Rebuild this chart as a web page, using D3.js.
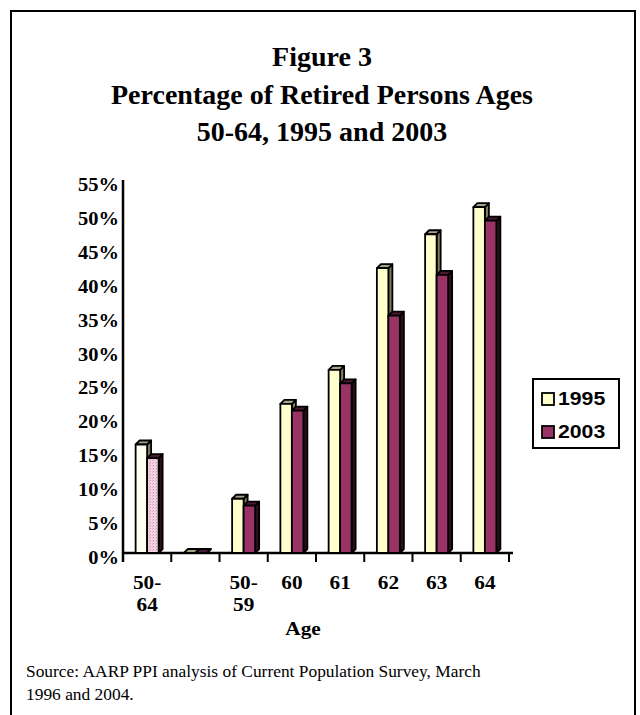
<!DOCTYPE html>
<html>
<head>
<meta charset="utf-8">
<script src="https://cdn.jsdelivr.net/npm/d3@7"></script>
<style>
  html, body { margin: 0; padding: 0; background: #fff; }
  svg { display: block; }
</style>
</head>
<body>
<svg id="chart" width="640" height="715"></svg>
<script>
// Age groups along the x axis (the blank one is a spacer column)
const categories = ["50-64", "", "50-59", "60", "61", "62", "63", "64"];
const series = ["1995", "2003"];
// Percentage retired, by age group
const values1995 = [16, 0, 8, 22, 27, 42, 47, 51];
const values2003 = [14, 0, 7, 21, 25, 35, 41, 49];
const yTicks = [0, 5, 10, 15, 20, 25, 30, 35, 40, 45, 50, 55];
const titleLines = ["Figure 3", "Percentage of Retired Persons Ages", "50-64, 1995 and 2003"];
const sourceLines = ["Source: AARP PPI analysis of Current Population Survey, March", "1996 and 2004."];

const svg = d3.select("#chart");
const serif = "'Liberation Serif', 'Times New Roman', serif";
const sans = "'Liberation Sans', Arial, sans-serif";

// Fill for the front faces; the combined 50-64 group uses paler fills
const frontFill = {
  "1995": (i) => i === 0 ? "#FFFFF0" : "#FFFFCC",
  "2003": (i) => i === 0 ? "url(#pinkHatch)" : "#993366"
};
const sideFill = { "1995": "#7F7F5F", "2003": "#2E0F1F" };
const topFill = { "1995": "#A5A585", "2003": "#4C1933" };

const defs = svg.append("defs");
const pat = defs.append("pattern").attr("id", "pinkHatch")
  .attr("width", 3).attr("height", 3).attr("patternUnits", "userSpaceOnUse");
pat.append("rect").attr("width", 3).attr("height", 3).attr("fill", "#F2D4E2");
pat.append("rect").attr("x", 0).attr("y", 0).attr("width", 1).attr("height", 1).attr("fill", "#C990AE");
pat.append("rect").attr("x", 2).attr("y", 1).attr("width", 1).attr("height", 1).attr("fill", "#DDB0C6");

// Text drawn slightly widened, as in the original chart's axis labels
function wideText(parent, x, y, str, opts) {
  return parent.append("text")
    .attr("transform", `translate(${x},${y}) scale(${opts.sx || 1},1)`)
    .attr("text-anchor", opts.anchor || "start")
    .attr("font-family", opts.family)
    .attr("font-weight", opts.weight || "normal")
    .attr("font-size", opts.size)
    .text(str);
}

// Outer frame (runs past the bottom edge)
svg.append("rect").attr("x", 11).attr("y", 11).attr("width", 624).attr("height", 720)
  .attr("fill", "none").attr("stroke", "#000").attr("stroke-width", 2);

// Title
svg.append("g").selectAll("text").data(titleLines).join("text")
  .attr("x", 322).attr("y", (d, i) => 66 + i * 37.5)
  .attr("text-anchor", "middle")
  .attr("font-family", serif).attr("font-weight", "bold").attr("font-size", 28)
  .text(d => d);

// Scales
const x = d3.scaleBand().domain(categories).range([123, 509]);
const y = d3.scaleLinear().domain([0, 55]).range([553, 180]);
const barW = 11.5;
const inner = d3.scaleBand().domain(series).range([0, barW * 2]);
const depth = 4;

// Y axis labels
const yLab = svg.append("g");
yTicks.forEach(t => wideText(yLab, 119, y(t) + 11, t + "%",
  { anchor: "end", family: serif, weight: "bold", size: 18, sx: 1.14 }));

// Y axis line
svg.append("line").attr("x1", 123).attr("x2", 123).attr("y1", y(55)).attr("y2", y(0) + 9)
  .attr("stroke", "#000").attr("stroke-width", 2.5);

// Floor line and x ticks
svg.append("line").attr("x1", 123).attr("x2", 513).attr("y1", y(0)).attr("y2", y(0))
  .attr("stroke", "#000").attr("stroke-width", 2.5);
const tickXs = categories.map(c => x(c) + x.bandwidth());
svg.append("g").selectAll("line").data(tickXs).join("line")
  .attr("x1", d => d).attr("x2", d => d).attr("y1", y(0)).attr("y2", y(0) + 9)
  .attr("stroke", "#000").attr("stroke-width", 2);

// 3D bars
const barsG = svg.append("g");
const rows = [];
categories.forEach((c, i) => {
  rows.push({ cat: c, i, s: "1995", v: values1995[i] });
  rows.push({ cat: c, i, s: "2003", v: values2003[i] });
});
rows.forEach(r => {
  const x0 = x(r.cat) + x.bandwidth() / 2 - barW + inner(r.s);
  const yt = y(r.v), yb = y(0);
  const g = barsG.append("g").attr("stroke", "#000").attr("stroke-width", 1.8).attr("stroke-linejoin", "round");
  g.append("polygon")
    .attr("points", [[x0 + barW, yt], [x0 + barW + depth, yt - depth], [x0 + barW + depth, yb - depth], [x0 + barW, yb]].join(" "))
    .attr("fill", sideFill[r.s]);
  g.append("polygon")
    .attr("points", [[x0, yt], [x0 + depth, yt - depth], [x0 + barW + depth, yt - depth], [x0 + barW, yt]].join(" "))
    .attr("fill", topFill[r.s]);
  g.append("rect").attr("x", x0).attr("y", yt).attr("width", barW).attr("height", Math.max(0, yb - yt))
    .attr("fill", frontFill[r.s](r.i));
});

// Category labels (hyphenated ranges wrap to two lines)
const catG = svg.append("g");
categories.forEach(c => {
  if (!c) return;
  const cx = x(c) + x.bandwidth() / 2;
  const parts = c.includes("-") ? [c.split("-")[0] + "-", c.split("-")[1]] : [c];
  parts.forEach((p, k) => wideText(catG, cx, 589 + k * 22, p,
    { anchor: "middle", family: serif, weight: "bold", size: 19, sx: 1.12 }));
});

// Axis title
wideText(svg, 303, 635, "Age", { anchor: "middle", family: serif, weight: "bold", size: 19, sx: 1.12 });

// Legend
const leg = svg.append("g");
leg.append("rect").attr("x", 533).attr("y", 379).attr("width", 86).attr("height", 69)
  .attr("fill", "#fff").attr("stroke", "#000").attr("stroke-width", 2);
const legColor = { "1995": "#FFFFCC", "2003": "#993366" };
series.forEach((s, k) => {
  const base = 405 + k * 33;
  leg.append("rect").attr("x", 542).attr("y", base - 12).attr("width", 12).attr("height", 12)
    .attr("fill", legColor[s]).attr("stroke", "#000").attr("stroke-width", 1.8);
  wideText(leg, 558, base, s, { family: sans, weight: "bold", size: 18, sx: 1.18 });
});

// Source note
svg.append("g").selectAll("text").data(sourceLines).join("text")
  .attr("x", 26).attr("y", (d, i) => 677 + i * 23)
  .attr("font-family", serif).attr("font-size", 17.4)
  .text(d => d);
</script>
</body>
</html>
